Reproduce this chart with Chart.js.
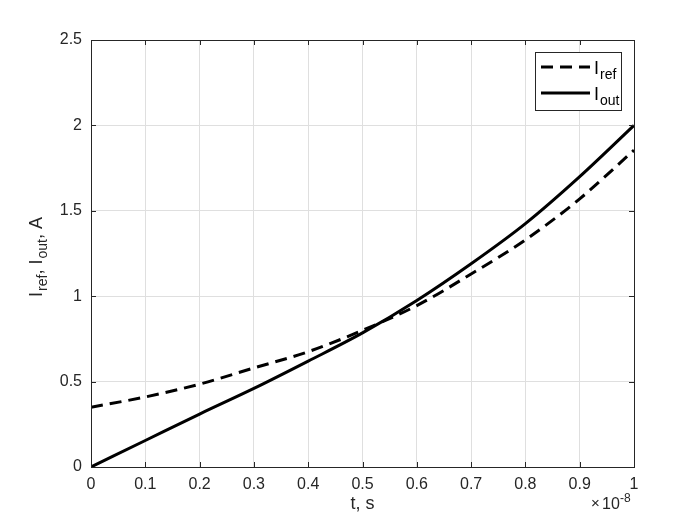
<!DOCTYPE html>
<html>
<head>
<meta charset="utf-8">
<script src="https://cdn.jsdelivr.net/npm/chart.js@4"></script>
<style>
  html, body { margin: 0; padding: 0; background: #fff; }
  #wrap { width: 700px; height: 525px; }
</style>
</head>
<body>
<div id="wrap"><canvas id="chart" width="700" height="525"></canvas></div>
<script>
// Data (t in units of 1e-8 s)
const tValues = [0, 0.1, 0.2, 0.3, 0.4, 0.5, 0.6, 0.7, 0.8, 0.9, 1.0];
const iRef = [0.35, 0.41, 0.485, 0.58, 0.675, 0.80, 0.945, 1.13, 1.33, 1.57, 1.855];
const iOut = [0, 0.155, 0.31, 0.46, 0.62, 0.785, 0.975, 1.19, 1.425, 1.70, 2.0];
const xTicks = [0, 0.1, 0.2, 0.3, 0.4, 0.5, 0.6, 0.7, 0.8, 0.9, 1];
const yTicks = [0, 0.5, 1, 1.5, 2, 2.5];

const FONT = '"Liberation Sans", Arial, sans-serif';
const TEXT_COLOR = '#262626';

// Draw text with a subscript part, returns advance width
function drawSub(ctx, main, sub, x, y, size) {
    ctx.font = size + 'px ' + FONT;
    ctx.fillText(main, x, y);
    let w = ctx.measureText(main).width;
    ctx.font = Math.round(size * 0.75) + 'px ' + FONT;
    ctx.fillText(sub, x + w + 1, y + 5);
    return w + 1 + ctx.measureText(sub).width;
}

// Box, inside ticks, legend, titles (MATLAB-like)
const decor = {
    id: 'decor',
    afterDraw(chart) {
        const ctx = chart.ctx;
        const a = chart.chartArea;
        const xs = chart.scales.x, ys = chart.scales.y;
        ctx.save();
        ctx.strokeStyle = '#262626';
        ctx.lineWidth = 1;
        ctx.strokeRect(a.left + 0.5, a.top + 0.5, a.right - a.left, a.bottom - a.top);
        ctx.beginPath();
        xTicks.forEach(v => {
            const px = Math.round(xs.getPixelForValue(v)) + 0.5;
            ctx.moveTo(px, a.bottom); ctx.lineTo(px, a.bottom - 5);
            ctx.moveTo(px, a.top); ctx.lineTo(px, a.top + 5);
        });
        yTicks.forEach(v => {
            const py = Math.round(ys.getPixelForValue(v)) + 0.5;
            ctx.moveTo(a.left, py); ctx.lineTo(a.left + 5, py);
            ctx.moveTo(a.right, py); ctx.lineTo(a.right - 5, py);
        });
        ctx.stroke();

        // Legend
        const lx = 535, ly = 52, lw = 86, lh = 58;
        ctx.fillStyle = '#fff';
        ctx.fillRect(lx, ly, lw, lh);
        ctx.strokeStyle = '#262626';
        ctx.strokeRect(lx + 0.5, ly + 0.5, lw, lh);
        const rows = [
            { ds: chart.data.datasets[0], sub: 'ref', y: ly + 15 },
            { ds: chart.data.datasets[1], sub: 'out', y: ly + 41 }
        ];
        rows.forEach(r => {
            ctx.beginPath();
            ctx.strokeStyle = '#000';
            ctx.lineWidth = r.ds.borderWidth;
            ctx.setLineDash(r.ds.borderDash || []);
            ctx.moveTo(lx + 6, r.y);
            ctx.lineTo(lx + 55, r.y);
            ctx.stroke();
            ctx.setLineDash([]);
            ctx.fillStyle = '#000';
            ctx.textBaseline = 'alphabetic';
            ctx.textAlign = 'left';
            drawSub(ctx, 'I', r.sub, lx + 59, r.y + 7, 18);
        });

        // X title
        ctx.fillStyle = TEXT_COLOR;
        ctx.textBaseline = 'alphabetic';
        ctx.textAlign = 'center';
        ctx.font = '18px ' + FONT;
        ctx.fillText('t, s', (a.left + a.right) / 2, 509);

        // Exponent label
        ctx.textAlign = 'left';
        ctx.font = '15px ' + FONT;
        ctx.fillText('\u00d7', 591, 508);
        ctx.font = '16px ' + FONT;
        ctx.fillText('10', 602, 509);
        ctx.font = '12px ' + FONT;
        ctx.fillText('-8', 620, 502);

        // Y title, rotated
        ctx.translate(42, 257);
        ctx.rotate(-Math.PI / 2);
        ctx.textAlign = 'left';
        ctx.textBaseline = 'alphabetic';
        const size = 18;
        const parts = [['I', 'ref'], ['I', 'out']];
        ctx.font = size + 'px ' + FONT;
        const wI = ctx.measureText('I').width;
        const wComma = ctx.measureText(', ').width;
        const wA = ctx.measureText('A').width;
        ctx.font = Math.round(size * 0.75) + 'px ' + FONT;
        let total = 2 * (wI + 1) + ctx.measureText('ref').width + ctx.measureText('out').width + 2 * wComma + wA;
        let x = -total / 2;
        parts.forEach(p => {
            x += drawSub(ctx, p[0], p[1], x, 0, size);
            ctx.font = size + 'px ' + FONT;
            ctx.fillText(', ', x, 0);
            x += wComma;
        });
        ctx.font = size + 'px ' + FONT;
        ctx.fillText('A', x, 0);
        ctx.restore();
    }
};

const ctx = document.getElementById('chart').getContext('2d');
new Chart(ctx, {
    type: 'line',
    data: {
        datasets: [
            {
                label: 'Iref',
                data: tValues.map((t, i) => ({ x: t, y: iRef[i] })),
                borderColor: '#000',
                borderWidth: 3,
                borderDash: [12, 7],
                pointRadius: 0,
                cubicInterpolationMode: 'monotone',
                fill: false
            },
            {
                label: 'Iout',
                data: tValues.map((t, i) => ({ x: t, y: iOut[i] })),
                borderColor: '#000',
                borderWidth: 3,
                pointRadius: 0,
                cubicInterpolationMode: 'monotone',
                fill: false
            }
        ]
    },
    options: {
        responsive: false,
        animation: false,
        layout: { padding: { left: 0, right: 66, top: 40, bottom: 0 } },
        plugins: {
            legend: { display: false },
            tooltip: { enabled: false }
        },
        scales: {
            x: {
                type: 'linear',
                min: 0,
                max: 1,
                afterFit: s => { s.height = 58; },
                afterBuildTicks: s => { s.ticks = xTicks.map(v => ({ value: v })); },
                grid: { color: '#dfdfdf', drawTicks: false },
                border: { display: false },
                ticks: {
                    padding: 8,
                    color: TEXT_COLOR,
                    font: { family: FONT, size: 16 },
                    maxRotation: 0,
                    callback: v => String(Math.round(v * 10) / 10)
                }
            },
            y: {
                type: 'linear',
                min: 0,
                max: 2.5,
                afterFit: s => { s.width = 91; },
                afterBuildTicks: s => { s.ticks = yTicks.map(v => ({ value: v })); },
                grid: { color: '#dfdfdf', drawTicks: false },
                border: { display: false },
                ticks: {
                    padding: 9,
                    color: TEXT_COLOR,
                    font: { family: FONT, size: 16 },
                    callback: v => String(v)
                }
            }
        }
    },
    plugins: [decor]
});
</script>
</body>
</html>
